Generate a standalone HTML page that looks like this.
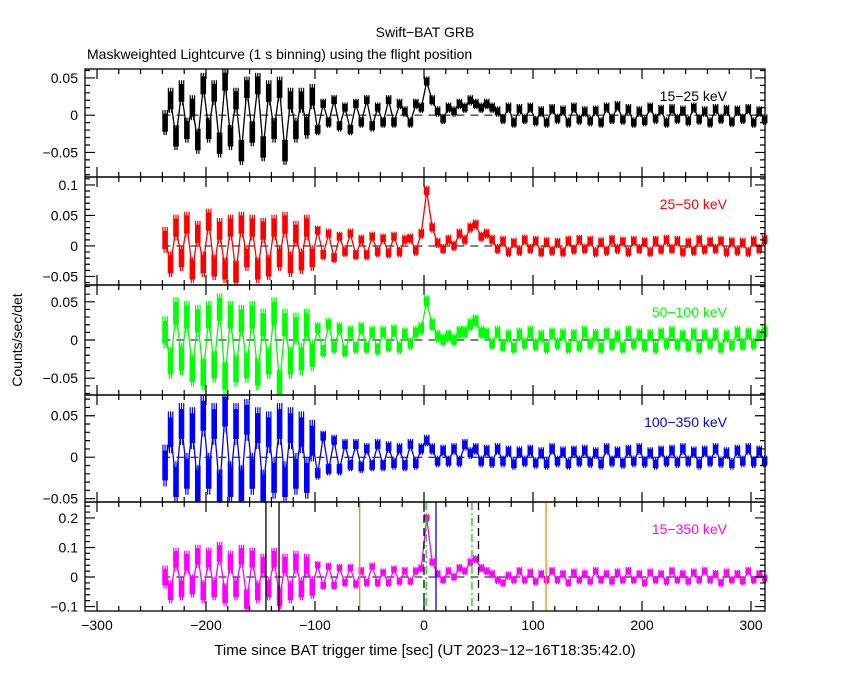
<!DOCTYPE html>
<html><head><meta charset="utf-8"><style>
body{margin:0;background:#fff;}
svg{display:block;font-family:"Liberation Sans",sans-serif;}
</style></head><body>
<svg id="c" width="850" height="680">
<text x="425" y="37" text-anchor="middle" font-size="14">Swift−BAT GRB</text>
<text x="87" y="59" font-size="14">Maskweighted Lightcurve (1 s binning) using the flight position</text>
<text x="425" y="655" text-anchor="middle" font-size="15">Time since BAT trigger time [sec] (UT 2023−12−16T18:35:42.0)</text>
<text transform="translate(22,340) rotate(-90)" text-anchor="middle" font-size="14">Counts/sec/det</text>
</svg>
<script>
const labels=["15−25 keV","25−50 keV","50−100 keV","100−350 keV","15−350 keV"];
const colors=["#000","#f00","#0f0","#00f","#f0f"];
const tStart=-240, tStep=5;
const xTicks=[-300,-200,-100,0,100,200,300];
const s1=[-0.01,0.02,-0.03,0.03,-0.02,0.01,-0.035,0.04,-0.02,0.03,-0.04,0.045,-0.03,0.02,-0.05,0.035,-0.025,0.04,-0.045,0.03,-0.02,0.035,-0.05,0.02,
-0.02,0.02,-0.015,0.025,-0.02,0.015,-0.01,0.02,-0.015,0.01,-0.02,0.015,-0.01,0.02,-0.015,0.01,-0.01,0.02,-0.01,0.015,0.005,-0.01,0.015,0.01,
0.045,0.02,0.005,-0.005,0.01,0.005,0.015,0.01,0.02,0.015,0.01,
0.015,0.01,0.005,-0.005,0.01,-0.01,0.008,-0.005,0.01,-0.008,0.005,-0.01,0.008,-0.005,0.006,-0.01,0.01,-0.006,0.005,-0.008,0.006,-0.01,0.01,-0.005,0.012,-0.006,0.008,-0.01,0.005,-0.008,0.01,-0.005,0.007,-0.01,0.008,-0.005,0.006,-0.008,0.01,-0.006,0.005,-0.01,0.008,-0.005,0.007,-0.009,0.006,-0.005,0.008,-0.01,0.005,-0.006];
const s2=[0.01,-0.03,0.03,-0.02,0.035,-0.04,0.02,-0.03,0.04,-0.035,0.025,-0.04,0.03,-0.045,0.035,-0.02,0.03,-0.04,0.025,-0.035,0.03,-0.02,0.035,-0.03,
0.02,-0.025,0.03,-0.02,0.025,-0.015,0.02,-0.02,0.015,-0.01,0.02,-0.015,0.01,-0.015,0.015,-0.01,0.012,-0.012,0.015,-0.01,0.01,0.012,-0.008,0.02,
0.09,0.03,0.005,-0.005,0.01,0.0,0.02,0.01,0.03,0.035,0.015,
0.02,0.01,-0.005,0.008,-0.01,0.005,-0.008,0.01,-0.005,0.008,-0.01,0.006,-0.008,0.005,-0.01,0.008,-0.006,0.01,-0.005,0.008,-0.01,0.006,-0.008,0.01,-0.005,0.007,-0.01,0.008,-0.005,0.006,-0.01,0.008,-0.006,0.01,-0.005,0.008,-0.01,0.005,-0.008,0.01,-0.006,0.007,-0.005,0.008,-0.01,0.006,-0.008,0.005,-0.01,0.008,-0.005,0.01];
const s3=[0.01,-0.03,0.035,-0.025,0.03,-0.04,0.025,-0.045,0.03,-0.035,0.04,-0.05,0.03,-0.04,0.025,-0.035,0.03,-0.045,0.02,-0.03,0.035,-0.06,0.02,-0.03,
0.015,-0.025,0.02,-0.02,0.015,-0.015,0.02,-0.01,0.015,-0.015,0.01,-0.01,0.015,-0.01,0.01,-0.012,0.01,-0.008,0.012,-0.01,0.008,-0.005,0.01,0.015,
0.05,0.02,0.005,0.0,0.005,0.0,0.01,0.01,0.02,0.025,0.01,
0.008,-0.005,0.01,-0.008,0.005,-0.01,0.008,-0.005,0.01,-0.006,0.005,-0.01,0.008,-0.005,0.007,-0.01,0.006,-0.008,0.01,-0.005,0.006,-0.01,0.008,-0.006,0.005,-0.01,0.01,-0.005,0.007,-0.008,0.006,-0.01,0.008,-0.005,0.01,-0.006,0.005,-0.008,0.008,-0.01,0.006,-0.005,0.008,-0.01,0.005,-0.007,0.01,-0.006,0.008,-0.005,0.006,0.01];
const s4=[-0.01,0.03,-0.03,0.04,-0.02,0.035,-0.035,0.05,-0.02,0.04,-0.04,0.055,-0.03,0.04,-0.035,0.045,-0.02,0.035,-0.04,0.03,-0.025,0.04,-0.03,0.035,
-0.02,0.03,-0.025,0.02,-0.02,0.025,-0.015,0.02,-0.015,0.015,-0.01,0.015,-0.012,0.01,-0.01,0.015,-0.01,0.012,-0.008,0.01,-0.01,0.015,-0.008,0.01,
0.02,0.01,-0.005,0.008,-0.005,0.01,-0.005,0.015,0.005,0.01,-0.005,
0.008,-0.006,0.01,-0.005,0.007,-0.008,0.006,-0.005,0.008,-0.007,0.005,-0.008,0.01,-0.005,0.006,-0.008,0.007,-0.005,0.008,-0.006,0.005,-0.008,0.01,-0.005,0.006,-0.007,0.008,-0.005,0.01,-0.006,0.005,-0.008,0.007,-0.005,0.008,-0.006,0.01,-0.005,0.006,-0.008,0.007,-0.005,0.01,-0.006,0.005,-0.008,0.008,-0.005,0.01,-0.006,0.007,-0.005];
const s5=[0.0,-0.05,0.06,-0.04,0.05,-0.03,0.07,-0.05,0.06,-0.04,0.08,-0.06,0.05,-0.04,0.07,-0.08,0.06,-0.05,0.04,-0.04,0.06,-0.07,0.04,-0.05,
0.05,-0.04,0.04,-0.035,0.04,-0.03,0.035,-0.03,0.03,-0.02,0.03,-0.025,0.02,-0.02,0.035,-0.02,0.015,-0.02,0.025,-0.015,0.02,-0.015,0.02,0.03,
0.2,0.05,0.01,-0.01,0.02,0.0,0.03,0.02,0.05,0.06,0.03,
0.02,0.01,-0.01,-0.02,0.005,-0.01,0.02,-0.01,0.015,-0.015,0.01,-0.01,0.02,-0.01,0.01,-0.02,0.015,-0.01,0.01,-0.015,0.02,-0.01,0.01,-0.015,0.015,-0.01,0.02,-0.01,0.01,-0.02,0.015,-0.01,0.01,-0.015,0.02,-0.01,0.01,-0.015,0.015,-0.01,0.02,-0.01,0.01,-0.02,0.015,-0.01,0.01,-0.015,0.02,-0.01,0.01,-0.005];
const series=[s1,s2,s3,s4,s5];
const errEarly=[0.012,0.015,0.015,0.018,0.028];
const errLate=[0.005,0.006,0.006,0.005,0.01];
const yRanges=[[-0.083,0.062],[-0.064,0.113],[-0.072,0.072],[-0.054,0.075],[-0.115,0.254]];
const yTickLabels=[[-0.05,0,0.05],[-0.05,0,0.05,0.1],[-0.05,0,0.05],[-0.05,0,0.05],[-0.1,0,0.1,0.2]];
const yMinor=[0.01,0.01,0.01,0.01,0.02];
const vLines=[[-133,"#000","none"],[-145,"#000","none"],[-59,"#f80","none"],[112,"#f80","none"],[0,"#000","8,5"],[50,"#000","8,5"],[2,"#0d0","8,3,2,3"],[44,"#0d0","8,3,2,3"],[11,"#00f","none"]];
const panelTop=[69,177,285,395,502], panelBot=[177,285,395,502,611];
const X0=85,X1=765;
const xs=t=>424+1.09*t;
const svg=document.getElementById('c');
const NS="http://www.w3.org/2000/svg";
function mk(tag,attrs,parent){const e=document.createElementNS(NS,tag);for(const k in attrs)e.setAttribute(k,attrs[k]);(parent||svg).appendChild(e);return e;}
function fmt(v){if(v===0)return "0";let s=String(v);s=s.replace("-","−");return s;}
for(let p=0;p<5;p++){
  const g=mk('g',{});
  
  
  const [lo,hi]=yRanges[p],T=panelTop[p],B=panelBot[p];
  const ys=v=>B-(v-lo)/(hi-lo)*(B-T);
  const clip=v=>Math.max(T,Math.min(B,v));
  const z=mk('line',{x1:xs(tStart),x2:X1,y1:ys(0),y2:ys(0),stroke:'#000','stroke-dasharray':'8,6','stroke-width':1},g);
  
  
  let d="",eb="";
  series[p].forEach((v,i)=>{const t=tStart+tStep*i;const y=ys(v);
    d+=(i?"L":"M")+xs(t+2.5).toFixed(1)+","+y.toFixed(1)+" ";
    const e=t< -100?errEarly[p]:errLate[p];
    for(let k=0;k<5;k++){eb+="M"+xs(t+k+0.5).toFixed(1)+","+clip(ys(v+e*(k%2?1:1.4))).toFixed(1)+"V"+clip(ys(v-e*(k%2?1.4:1))).toFixed(1)+" ";}});
  const eP=mk('path',{d:eb,stroke:colors[p],'stroke-width':1.2,fill:'none'},g);
  
  
  const ln=mk('path',{d:d,stroke:colors[p],'stroke-width':1.3,fill:'none'},g);
  
  
  if(p===4){vLines.forEach(vl=>{const l=mk('line',{x1:xs(vl[0]),x2:xs(vl[0]),y1:T,y2:B,stroke:vl[1],'stroke-width':1.3,'stroke-dasharray':vl[2]},g);
    
    });}
  const fr=mk('rect',{x:X0,y:T,width:X1-X0,height:B-T,fill:'none',stroke:'#000','stroke-width':1.3},g);
  
  
  let tk="";
  for(let t=-300;t<=310;t+=20){const x=xs(t),L=(t%100===0)?10:5;tk+="M"+x+","+B+"v-"+L+"M"+x+","+T+"v"+L;}
  const m=yMinor[p];
  for(let k=Math.ceil(lo/m);k*m<=hi;k++){const v=k*m,y=ys(v);const maj=Math.abs(v/0.05-Math.round(v/0.05))<1e-6&&(p<4||Math.abs(v/0.1-Math.round(v/0.1))<1e-6);const L=maj?10:5;tk+="M"+X0+","+y+"h"+L+"M"+X1+","+y+"h-"+L;}
  const tp=mk('path',{d:tk,stroke:'#000','stroke-width':1.2,fill:'none'},g);
  
  
  yTickLabels[p].forEach(v=>{const tx=mk('text',{x:78,y:ys(v)+5,'text-anchor':'end','font-size':14},g);tx.textContent=fmt(v);
    
    });
  const lb=mk('text',{x:727,y:T+32,'text-anchor':'end','font-size':14,fill:colors[p]},g);lb.textContent=labels[p];
  
  
}
xTicks.forEach(t=>{const tx=mk('text',{x:xs(t),y:630,'text-anchor':'middle','font-size':14});tx.textContent=fmt(t);
  
  });
</script>
</body></html>
